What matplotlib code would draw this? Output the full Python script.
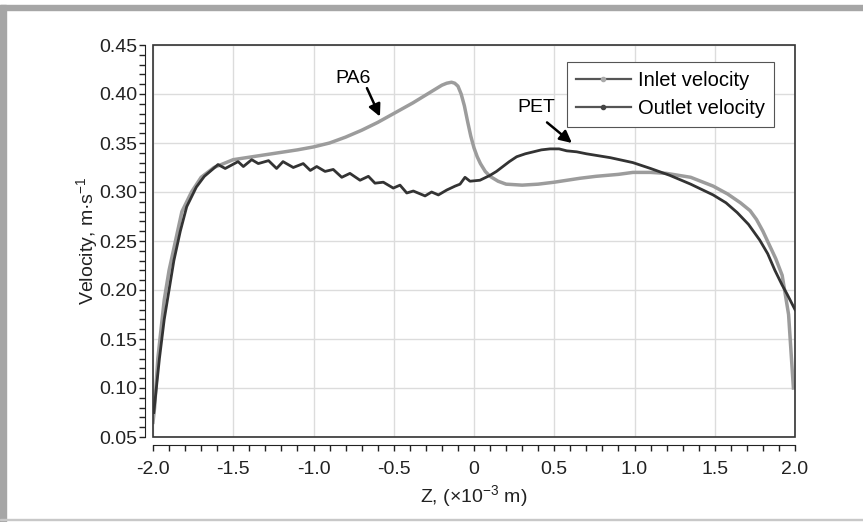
import matplotlib.pyplot as plt
from matplotlib.lines import Line2D
from matplotlib.patches import Rectangle
from matplotlib.ticker import MultipleLocator

plt.rcParams['font.family'] = ['Liberation Sans', 'DejaVu Sans']
plt.rcParams['mathtext.fontset'] = 'custom'
plt.rcParams['mathtext.rm'] = 'Liberation Sans'
plt.rcParams['mathtext.it'] = 'Liberation Sans:italic'
plt.rcParams['axes.unicode_minus'] = False

# values
inlet_z = [-2.0, -1.99, -1.97, -1.95, -1.93, -1.9, -1.86, -1.82, -1.76, -1.7, -1.62, -1.5,
           -1.3, -1.1, -1.0, -0.9, -0.8, -0.7, -0.6, -0.49, -0.38, -0.3, -0.25, -0.2,
           -0.17, -0.14, -0.12, -0.1, -0.08, -0.06, -0.04, -0.02, 0.0, 0.02, 0.04, 0.07,
           0.1, 0.15, 0.2, 0.3, 0.4, 0.5, 0.66, 0.76, 0.9, 0.99, 1.1, 1.2, 1.35, 1.49,
           1.58, 1.66, 1.72, 1.76, 1.8, 1.84, 1.88, 1.92, 1.96, 1.99]
inlet_v = [0.065, 0.08, 0.13, 0.16, 0.19, 0.22, 0.25, 0.28, 0.30, 0.315, 0.325, 0.333,
           0.338, 0.343, 0.346, 0.350, 0.356, 0.363, 0.371, 0.381, 0.391, 0.399, 0.404, 0.409,
           0.411, 0.412, 0.411, 0.408, 0.400, 0.388, 0.372, 0.357, 0.345, 0.336, 0.329, 0.321,
           0.316, 0.311, 0.308, 0.307, 0.308, 0.310, 0.314, 0.316, 0.318, 0.320, 0.320, 0.319,
           0.315, 0.306, 0.298, 0.289, 0.281, 0.272, 0.260, 0.246, 0.232, 0.215, 0.175, 0.100]

outlet_z = [-1.995, -1.96, -1.93, -1.9, -1.87, -1.83, -1.79, -1.73, -1.68, -1.63,
            -1.595, -1.55, -1.47, -1.437, -1.385, -1.344, -1.28, -1.23, -1.19, -1.126,
            -1.064, -1.02, -0.98, -0.928, -0.877, -0.824, -0.773, -0.71, -0.658, -0.617,
            -0.565, -0.503, -0.461, -0.419, -0.378, -0.305, -0.264, -0.222, -0.17, -0.118,
            -0.087, -0.056, -0.025, 0.037, 0.10, 0.14, 0.18, 0.22, 0.266, 0.32, 0.37,
            0.42, 0.474, 0.53, 0.578, 0.64, 0.70, 0.85, 0.99, 1.1, 1.22, 1.35, 1.49, 1.57,
            1.64, 1.71, 1.78, 1.83, 1.875, 1.92, 1.95, 2.0]
outlet_v = [0.075, 0.13, 0.17, 0.20, 0.23, 0.26, 0.285, 0.305, 0.316, 0.323,
            0.328, 0.324, 0.331, 0.326, 0.333, 0.329, 0.332, 0.324, 0.331, 0.325,
            0.329, 0.322, 0.326, 0.321, 0.323, 0.315, 0.319, 0.312, 0.316, 0.309,
            0.310, 0.304, 0.307, 0.299, 0.301, 0.296, 0.300, 0.297, 0.302, 0.306,
            0.308, 0.315, 0.311, 0.312, 0.317, 0.321, 0.326, 0.331, 0.336, 0.339, 0.341,
            0.343, 0.344, 0.344, 0.342, 0.341, 0.339, 0.335, 0.330, 0.324, 0.317, 0.308,
            0.297, 0.289, 0.279, 0.267, 0.251, 0.237, 0.220, 0.205, 0.196, 0.180]

x_ticks = [-2.0, -1.5, -1.0, -0.5, 0.0, 0.5, 1.0, 1.5, 2.0]
x_labels = ['-2.0', '-1.5', '-1.0', '-0.5', '0', '0.5', '1.0', '1.5', '2.0']
y_ticks = [0.05, 0.10, 0.15, 0.20, 0.25, 0.30, 0.35, 0.40, 0.45]

fig = plt.figure(figsize=(8.63, 5.22), dpi=100)
ax = fig.add_axes([153 / 863, 1 - 437 / 522, 642 / 863, 392 / 522])

ax.plot(inlet_z, inlet_v, color='#9c9c9c', lw=2.5, zorder=3)
ax.plot(outlet_z, outlet_v, color='#333333', lw=2.0, zorder=4)

ax.set_xlim(-2.0, 2.0)
ax.set_ylim(0.05, 0.45)
ax.set_xticks(x_ticks)
ax.set_xticklabels(x_labels)
ax.set_yticks(y_ticks)
ax.set_yticklabels(['%.2f' % t for t in y_ticks])
ax.xaxis.set_minor_locator(MultipleLocator(0.1))
ax.yaxis.set_minor_locator(MultipleLocator(0.01))
ax.tick_params(which='both', direction='out', length=4, width=1, colors='#222222',
               labelsize=14, labelcolor='#222222')
ax.tick_params(axis='x', pad=7)
ax.tick_params(axis='y', pad=1)
ax.grid(True, which='major', color='#dcdcdc', lw=1)
ax.set_axisbelow(True)

for s in ['left', 'bottom']:
    ax.spines[s].set_position(('outward', 6))
    ax.spines[s].set_color('#222222')
for s in ['top', 'right']:
    ax.spines[s].set_visible(False)
ax.add_patch(Rectangle((0, 0), 1, 1, transform=ax.transAxes, fill=False,
                       edgecolor='#333333', lw=1.2, clip_on=False, zorder=5))

ax.set_xlabel('Z, (×10$^{-3}$ m)', fontsize=14, color='#222222', labelpad=4)
ax.set_ylabel('Velocity, m·s$^{-1}$', fontsize=14, color='#222222')
ax.yaxis.set_label_coords(-0.082, 0.5)

# annotations: labels and arrows
arrow = dict(arrowstyle='-|>', color='k', lw=1.8, mutation_scale=18, shrinkA=0, shrinkB=0)
ax.text(-0.755, 0.416, 'PA6', fontsize=14, ha='center', va='center')
ax.annotate('', xy=(-0.586, 0.377), xytext=(-0.667, 0.406), arrowprops=arrow)
ax.text(0.39, 0.386, 'PET', fontsize=14, ha='center', va='center')
ax.annotate('', xy=(0.61, 0.350), xytext=(0.455, 0.371), arrowprops=arrow)

handles = [Line2D([], [], color='#555555', lw=1.6, marker='o', ms=3,
                  mfc='#aaaaaa', mec='#aaaaaa'),
           Line2D([], [], color='#555555', lw=1.6, marker='o', ms=3,
                  mfc='#444444', mec='#444444')]
leg = ax.legend(handles, ['Inlet velocity', 'Outlet velocity'], loc='upper left',
                bbox_to_anchor=(0.645, 0.957), borderaxespad=0, fontsize=14.5,
                handlelength=2.7, fancybox=False, framealpha=1, edgecolor='#555555',
                borderpad=0.45, labelspacing=0.45, handletextpad=0.35)
leg.get_frame().set_linewidth(0.8)

# grey page frame
fig.patches.append(Rectangle((0, 1 - 10 / 522), 1, 5 / 522, transform=fig.transFigure,
                             color='#a6a6a6', zorder=0))
fig.patches.append(Rectangle((0, 0), 6 / 863, 1 - 5 / 522, transform=fig.transFigure,
                             color='#a6a6a6', zorder=0))
fig.patches.append(Rectangle((0, 2 / 522), 1, 1.5 / 522, transform=fig.transFigure,
                             color='#c8c8c8', zorder=0))

fig.savefig('out.png', dpi=100)
